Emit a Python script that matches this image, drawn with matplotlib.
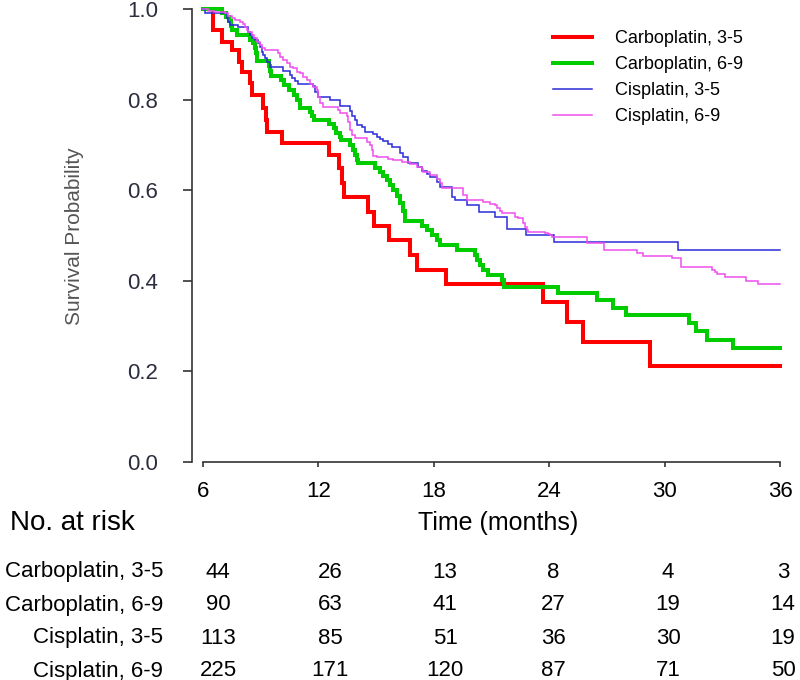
import numpy as np
import matplotlib
matplotlib.use('Agg')
import matplotlib.pyplot as plt

plt.rcParams['font.family'] = ['Liberation Sans', 'DejaVu Sans']

# Kaplan-Meier curves (time in months, survival)
t_carbo35 = [6.0, 6.52, 7.0, 7.5, 7.87, 8.03, 8.46, 8.55, 9.12, 9.3, 9.35, 10.12, 12.57, 13.09,
             13.21, 13.33, 14.6, 14.89, 15.69, 16.76, 17.14, 18.62, 23.66, 24.91, 25.78, 29.24]
s_carbo35 = [1.0, 0.954, 0.928, 0.91, 0.884, 0.862, 0.837, 0.81, 0.782, 0.755, 0.729, 0.704, 0.678, 0.649,
             0.616, 0.586, 0.553, 0.521, 0.49, 0.457, 0.424, 0.393, 0.354, 0.309, 0.265, 0.212]

t_carbo69 = [6.0, 6.99, 7.20, 7.35, 7.46, 7.51, 7.79, 8.44, 8.60, 8.70, 8.78, 8.83, 9.41, 9.48, 9.54,
             10.06, 10.21, 10.47, 10.73, 10.89, 11.04, 11.56, 11.67, 11.77, 12.55, 12.81, 12.92, 13.12,
             13.18, 13.64, 13.80, 13.90, 13.99, 14.08, 14.94, 15.20, 15.36, 15.57, 15.72, 15.88, 16.07,
             16.24, 16.42, 16.50, 17.39, 17.63, 17.89, 18.15, 18.32, 19.19, 20.14, 20.25, 20.40, 20.58,
             20.82, 21.53, 21.65, 24.46, 26.47, 27.34, 28.00, 31.27, 31.64, 32.18, 33.54]
s_carbo69 = [1.0, 0.992, 0.983, 0.974, 0.963, 0.954, 0.943, 0.932, 0.925, 0.914, 0.903, 0.886, 0.875, 0.864,
             0.853, 0.844, 0.833, 0.822, 0.811, 0.800, 0.782, 0.773, 0.764, 0.755, 0.747, 0.738, 0.727,
             0.718, 0.711, 0.700, 0.689, 0.678, 0.667, 0.660, 0.649, 0.640, 0.631, 0.623, 0.612, 0.601,
             0.587, 0.572, 0.554, 0.531, 0.521, 0.512, 0.501, 0.490, 0.480, 0.468, 0.457, 0.446, 0.435,
             0.424, 0.413, 0.402, 0.386, 0.372, 0.357, 0.340, 0.324, 0.307, 0.289, 0.268, 0.251]

t_cis35 = [6.0, 6.10, 7.23, 7.32, 7.40, 7.84, 8.36, 8.44, 8.53, 8.70, 8.88, 8.96, 9.05, 9.14, 9.22, 9.31,
           9.48, 10.18, 10.52, 10.61, 10.78, 10.96, 11.74, 11.82, 12.00, 12.60, 13.12, 13.64, 13.73,
           13.90, 13.99, 14.25, 14.42, 14.86, 15.03, 15.20, 15.38, 15.62, 15.81, 16.24, 16.42, 16.68,
           17.20, 17.37, 17.63, 17.80, 18.15, 18.32, 18.93, 19.10, 19.71, 20.35, 21.18, 21.79, 21.83,
           22.80, 24.23, 30.69]
s_cis35 = [1.0, 0.992, 0.981, 0.972, 0.965, 0.961, 0.950, 0.943, 0.937, 0.932, 0.926, 0.917, 0.906, 0.899,
           0.892, 0.884, 0.872, 0.864, 0.855, 0.848, 0.842, 0.836, 0.830, 0.818, 0.807, 0.800, 0.786,
           0.775, 0.764, 0.755, 0.744, 0.740, 0.729, 0.724, 0.718, 0.713, 0.709, 0.703, 0.696, 0.682,
           0.674, 0.660, 0.651, 0.643, 0.636, 0.629, 0.618, 0.607, 0.586, 0.578, 0.567, 0.553, 0.541,
           0.528, 0.515, 0.501, 0.486, 0.469]

t_cis69 = [6.0, 6.26, 6.57, 7.14, 7.32, 7.49, 7.66, 7.92, 8.10, 8.18, 8.27, 8.36, 8.53, 8.63, 8.79, 8.96,
           9.05, 9.22, 9.92, 10.00, 10.18, 10.35, 10.52, 10.70, 10.87, 11.04, 11.22, 11.39, 11.56, 11.74,
           11.91, 12.00, 12.08, 12.26, 13.02, 13.12, 13.47, 13.56, 13.64, 13.73, 13.90, 14.51, 14.68,
           14.77, 14.86, 15.03, 15.62, 15.90, 16.33, 16.76, 17.11, 17.37, 17.46, 17.80, 18.15, 18.32,
           18.41, 19.54, 19.71, 20.58, 20.84, 20.92, 21.18, 21.27, 21.44, 21.53, 22.22, 22.40, 22.66,
           22.74, 22.83, 22.92, 23.78, 23.96, 24.04, 24.13, 25.95, 26.85, 28.58, 28.90, 30.39, 30.84,
           32.45, 32.63, 32.71, 33.15, 34.24, 34.88]
s_cis69 = [1.0, 0.997, 0.995, 0.992, 0.985, 0.980, 0.977, 0.973, 0.968, 0.960, 0.954, 0.950, 0.943, 0.937,
           0.928, 0.921, 0.914, 0.910, 0.903, 0.895, 0.888, 0.881, 0.873, 0.870, 0.862, 0.859, 0.851,
           0.844, 0.835, 0.829, 0.822, 0.807, 0.792, 0.784, 0.777, 0.770, 0.765, 0.752, 0.733, 0.722,
           0.715, 0.707, 0.699, 0.689, 0.676, 0.673, 0.670, 0.667, 0.663, 0.658, 0.652, 0.648, 0.641,
           0.634, 0.626, 0.615, 0.604, 0.589, 0.578, 0.575, 0.573, 0.570, 0.567, 0.560, 0.555, 0.550,
           0.541, 0.538, 0.527, 0.519, 0.512, 0.508, 0.506, 0.504, 0.501, 0.496, 0.483, 0.468, 0.462,
           0.455, 0.450, 0.430, 0.424, 0.420, 0.415, 0.408, 0.400, 0.393]

t_end = 36

groups = ['Carboplatin, 3-5', 'Carboplatin, 6-9', 'Cisplatin, 3-5', 'Cisplatin, 6-9']
risk_times = [6, 12, 18, 24, 30, 36]
at_risk = [
    [44, 26, 13, 8, 4, 3],
    [90, 63, 41, 27, 19, 14],
    [113, 85, 51, 36, 30, 19],
    [225, 171, 120, 87, 71, 50],
]

curves = [(t_carbo35, s_carbo35), (t_carbo69, s_carbo69), (t_cis35, s_cis35), (t_cis69, s_cis69)]
colors = ['#ff0000', '#00cc00', '#2b2bd9', '#ee4fee']
widths = [2.9, 2.9, 1.1, 1.1]

fig = plt.figure(figsize=(8, 6.8), dpi=100)
ax = fig.add_axes([0.24, 0.321, 0.735, 0.6653])

for (t, s), col, lw, lab in zip(curves, colors, widths, groups):
    tt = np.append(t, t_end)
    ss = np.append(s, s[-1])
    ax.step(tt, ss, where='post', color=col, lw=lw, label=lab, clip_on=False,
            solid_joinstyle='miter')

ax.set_xlim(5.43, 36.0)
ax.set_ylim(0, 1.0)
ax.set_xticks(risk_times)
ax.set_yticks([0, 0.2, 0.4, 0.6, 0.8, 1.0])
ax.set_yticklabels(['0.0', '0.2', '0.4', '0.6', '0.8', '1.0'])

for side in ['top', 'right']:
    ax.spines[side].set_visible(False)
ax.spines['left'].set_bounds(0, 1)
ax.spines['bottom'].set_bounds(6, 36)
ax.spines['left'].set_color('#333333')
ax.spines['bottom'].set_color('#333333')
ax.spines['left'].set_linewidth(1.2)
ax.spines['bottom'].set_linewidth(1.2)

ax.tick_params(axis='y', length=6.5, width=1.2, color='#333333', pad=18,
               labelsize=16, labelcolor='#2d2d40')
ax.tick_params(axis='x', length=3.6, width=1.2, color='#333333', pad=10,
               labelsize=16, labelcolor='black')

fig.text(75 / 800, 1 - 236 / 680, 'Survival Probability', rotation=90,
         ha='center', va='center', fontsize=15, color='#555555')

leg = ax.legend(loc='upper left', bbox_to_anchor=(553 / 800, 1 - 30 / 680),
                bbox_transform=fig.transFigure, frameon=False, fontsize=13,
                handlelength=2.15, handletextpad=1.3, labelspacing=0.5,
                borderpad=0, borderaxespad=0)

# number at risk table
fig.text(10 / 800, 1 - 523 / 680, 'No. at risk', ha='left', va='center', fontsize=20)
fig.text(498 / 800, 1 - 523 / 680, 'Time (months)', ha='center', va='center', fontsize=18)

col_x = [218, 330, 445, 553, 668, 783]
row_y = [572, 605, 638, 671]
for i, name in enumerate(groups):
    fig.text(163 / 800, 1 - row_y[i] / 680, name, ha='right', va='center', fontsize=16)
    for j, n in enumerate(at_risk[i]):
        fig.text(col_x[j] / 800, 1 - row_y[i] / 680, str(n), ha='center', va='center', fontsize=16)

fig.savefig('out.png', dpi=100)
